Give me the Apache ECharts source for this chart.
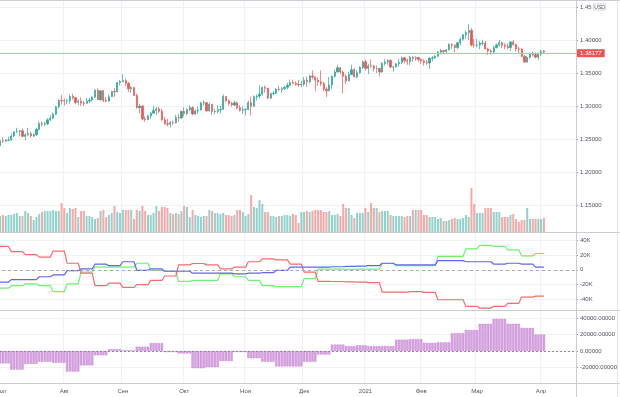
<!DOCTYPE html>
<html>
<head>
<meta charset="utf-8">
<title>GBP/USD</title>
<script src="https://cdn.jsdelivr.net/npm/echarts@6/dist/echarts.min.js"></script>
<style>
  html, body { margin: 0; padding: 0; background: #fff; }
  #chart { width: 620px; height: 397px; }
</style>
</head>
<body>
<div id="chart"></div>
<script>
// GBP/USD, дневки 30.06.2020 - 02.04.2021: [open, close, low, high]
const candles = [
  [1.2300, 1.2400, 1.2290, 1.2420],
  [1.2400, 1.2475, 1.2390, 1.2505], [1.2475, 1.2470, 1.2440, 1.2530], [1.2470, 1.2480, 1.2450, 1.2500],
  [1.2480, 1.2485, 1.2465, 1.2535], [1.2485, 1.2545, 1.2475, 1.2585], [1.2545, 1.2610, 1.2530, 1.2615],
  [1.2610, 1.2615, 1.2590, 1.2670], [1.2615, 1.2625, 1.2540, 1.2640], [1.2625, 1.2540, 1.2525, 1.2660],
  [1.2540, 1.2565, 1.2480, 1.2590], [1.2565, 1.2580, 1.2540, 1.2670], [1.2580, 1.2545, 1.2520, 1.2610],
  [1.2545, 1.2565, 1.2530, 1.2590], [1.2565, 1.2645, 1.2545, 1.2670], [1.2645, 1.2735, 1.2630, 1.2770],
  [1.2735, 1.2725, 1.2690, 1.2765], [1.2725, 1.2730, 1.2690, 1.2760], [1.2730, 1.2790, 1.2710, 1.2815],
  [1.2790, 1.2815, 1.2770, 1.2860], [1.2815, 1.2875, 1.2800, 1.2900], [1.2875, 1.2990, 1.2860, 1.3000],
  [1.2990, 1.3085, 1.2960, 1.3100], [1.3085, 1.3080, 1.3020, 1.3170],
  // август
  [1.3080, 1.3075, 1.3005, 1.3115], [1.3075, 1.3080, 1.3025, 1.3110], [1.3080, 1.3145, 1.3035, 1.3175],
  [1.3145, 1.3125, 1.3100, 1.3185], [1.3125, 1.3055, 1.3030, 1.3140], [1.3055, 1.3070, 1.3015, 1.3100],
  [1.3070, 1.3045, 1.3000, 1.3130], [1.3045, 1.3040, 1.3000, 1.3075], [1.3040, 1.3075, 1.3035, 1.3125],
  [1.3075, 1.3090, 1.3045, 1.3125], [1.3090, 1.3135, 1.3070, 1.3145], [1.3135, 1.3240, 1.3125, 1.3250],
  [1.3240, 1.3095, 1.3090, 1.3265], [1.3095, 1.3230, 1.3080, 1.3240], [1.3230, 1.3085, 1.3060, 1.3245],
  [1.3085, 1.3075, 1.3055, 1.3140], [1.3075, 1.3140, 1.3060, 1.3175], [1.3140, 1.3220, 1.3135, 1.3230],
  [1.3220, 1.3215, 1.3140, 1.3270], [1.3215, 1.3355, 1.3205, 1.3365], [1.3355, 1.3370, 1.3315, 1.3395],
  // сентябрь
  [1.3370, 1.3385, 1.3360, 1.3480], [1.3385, 1.3345, 1.3305, 1.3415], [1.3345, 1.3260, 1.3210, 1.3365],
  [1.3260, 1.3280, 1.3195, 1.3300], [1.3280, 1.3160, 1.3155, 1.3285], [1.3160, 1.2975, 1.2960, 1.3185],
  [1.2975, 1.3000, 1.2890, 1.3035], [1.3000, 1.2805, 1.2780, 1.3010], [1.2805, 1.2795, 1.2760, 1.2845],
  [1.2795, 1.2850, 1.2785, 1.2875], [1.2850, 1.2890, 1.2805, 1.2905], [1.2890, 1.2930, 1.2885, 1.3005],
  [1.2930, 1.2955, 1.2865, 1.2985], [1.2955, 1.2920, 1.2895, 1.2985], [1.2920, 1.2790, 1.2775, 1.2960],
  [1.2790, 1.2730, 1.2720, 1.2835], [1.2730, 1.2725, 1.2690, 1.2805], [1.2725, 1.2750, 1.2675, 1.2770],
  [1.2750, 1.2745, 1.2705, 1.2780], [1.2745, 1.2825, 1.2735, 1.2865], [1.2825, 1.2820, 1.2760, 1.2880],
  [1.2820, 1.2920, 1.2805, 1.2925],
  // октябрь
  [1.2920, 1.2885, 1.2845, 1.2980], [1.2885, 1.2945, 1.2860, 1.2965], [1.2945, 1.2975, 1.2920, 1.3010],
  [1.2975, 1.2880, 1.2860, 1.3000], [1.2880, 1.2925, 1.2865, 1.2945], [1.2925, 1.2940, 1.2880, 1.2990],
  [1.2940, 1.3045, 1.2930, 1.3065], [1.3045, 1.3050, 1.3010, 1.3085], [1.3050, 1.2925, 1.2915, 1.3060],
  [1.2925, 1.3025, 1.2915, 1.3050], [1.3025, 1.2915, 1.2865, 1.3030], [1.2915, 1.2920, 1.2875, 1.2960],
  [1.2920, 1.2945, 1.2890, 1.3010], [1.2945, 1.2950, 1.2885, 1.3000], [1.2950, 1.3145, 1.2945, 1.3175],
  [1.3145, 1.3080, 1.3055, 1.3150], [1.3080, 1.3040, 1.3005, 1.3100], [1.3040, 1.3015, 1.2990, 1.3065],
  [1.3015, 1.3050, 1.3000, 1.3080], [1.3050, 1.2975, 1.2950, 1.3065], [1.2975, 1.2935, 1.2915, 1.3015],
  [1.2935, 1.2945, 1.2880, 1.2995],
  // ноябрь
  [1.2945, 1.2950, 1.2855, 1.2965], [1.2950, 1.3050, 1.2935, 1.3080], [1.3050, 1.2995, 1.2855, 1.3140],
  [1.2995, 1.3140, 1.2985, 1.3160], [1.3140, 1.3150, 1.3085, 1.3175], [1.3150, 1.3180, 1.3115, 1.3310],
  [1.3180, 1.3280, 1.3160, 1.3290], [1.3280, 1.3270, 1.3200, 1.3310], [1.3270, 1.3120, 1.3105, 1.3275],
  [1.3120, 1.3190, 1.3105, 1.3200], [1.3190, 1.3195, 1.3160, 1.3225], [1.3195, 1.3255, 1.3175, 1.3275],
  [1.3255, 1.3250, 1.3230, 1.3310], [1.3250, 1.3260, 1.3200, 1.3285], [1.3260, 1.3285, 1.3245, 1.3300],
  [1.3285, 1.3315, 1.3250, 1.3355], [1.3315, 1.3355, 1.3300, 1.3400], [1.3355, 1.3345, 1.3330, 1.3400],
  [1.3345, 1.3325, 1.3305, 1.3375], [1.3325, 1.3320, 1.3290, 1.3395], [1.3320, 1.3330, 1.3285, 1.3385],
  // декабрь
  [1.3330, 1.3390, 1.3300, 1.3440], [1.3390, 1.3365, 1.3290, 1.3445], [1.3365, 1.3455, 1.3340, 1.3470],
  [1.3455, 1.3440, 1.3405, 1.3540], [1.3440, 1.3390, 1.3225, 1.3445], [1.3390, 1.3365, 1.3305, 1.3430],
  [1.3365, 1.3340, 1.3305, 1.3540], [1.3340, 1.3255, 1.3225, 1.3365], [1.3255, 1.3230, 1.3135, 1.3285],
  [1.3230, 1.3320, 1.3225, 1.3440], [1.3320, 1.3450, 1.3255, 1.3465], [1.3450, 1.3515, 1.3425, 1.3550],
  [1.3515, 1.3580, 1.3505, 1.3625], [1.3580, 1.3515, 1.3485, 1.3590], [1.3515, 1.3450, 1.3190, 1.3535],
  [1.3450, 1.3380, 1.3335, 1.3480], [1.3380, 1.3475, 1.3375, 1.3520], [1.3475, 1.3550, 1.3470, 1.3625],
  [1.3550, 1.3440, 1.3435, 1.3575], [1.3440, 1.3505, 1.3425, 1.3545], [1.3505, 1.3585, 1.3490, 1.3605],
  [1.3585, 1.3670, 1.3560, 1.3690],
  // январь
  [1.3670, 1.3570, 1.3535, 1.3705], [1.3570, 1.3610, 1.3485, 1.3640], [1.3610, 1.3605, 1.3580, 1.3705],
  [1.3605, 1.3565, 1.3525, 1.3625], [1.3565, 1.3570, 1.3500, 1.3615], [1.3570, 1.3515, 1.3450, 1.3580],
  [1.3515, 1.3645, 1.3505, 1.3665], [1.3645, 1.3665, 1.3610, 1.3710], [1.3665, 1.3690, 1.3625, 1.3710],
  [1.3690, 1.3590, 1.3575, 1.3710], [1.3590, 1.3595, 1.3520, 1.3610], [1.3595, 1.3640, 1.3585, 1.3650],
  [1.3640, 1.3660, 1.3595, 1.3710], [1.3660, 1.3730, 1.3635, 1.3745], [1.3730, 1.3685, 1.3645, 1.3745],
  [1.3685, 1.3675, 1.3625, 1.3720], [1.3675, 1.3740, 1.3620, 1.3760], [1.3740, 1.3720, 1.3670, 1.3760],
  [1.3720, 1.3735, 1.3685, 1.3755], [1.3735, 1.3705, 1.3670, 1.3745],
  // февраль
  [1.3705, 1.3680, 1.3640, 1.3720], [1.3680, 1.3660, 1.3610, 1.3710], [1.3660, 1.3650, 1.3620, 1.3695],
  [1.3650, 1.3725, 1.3565, 1.3740], [1.3725, 1.3730, 1.3675, 1.3755], [1.3730, 1.3755, 1.3715, 1.3770],
  [1.3755, 1.3815, 1.3745, 1.3830], [1.3815, 1.3840, 1.3780, 1.3865], [1.3840, 1.3825, 1.3795, 1.3850],
  [1.3825, 1.3850, 1.3795, 1.3865], [1.3850, 1.3930, 1.3845, 1.3950], [1.3930, 1.3920, 1.3865, 1.3955],
  [1.3920, 1.3885, 1.3815, 1.3935], [1.3885, 1.3960, 1.3860, 1.3965], [1.3960, 1.4010, 1.3920, 1.4035],
  [1.4010, 1.4080, 1.3990, 1.4085], [1.4080, 1.4115, 1.4015, 1.4145], [1.4115, 1.4145, 1.4000, 1.4240],
  [1.4145, 1.3925, 1.3900, 1.4180], [1.3925, 1.3920, 1.3885, 1.4015],
  // март
  [1.3920, 1.3925, 1.3890, 1.4015], [1.3925, 1.3950, 1.3860, 1.3985], [1.3950, 1.3955, 1.3915, 1.4005],
  [1.3955, 1.3865, 1.3855, 1.3985], [1.3865, 1.3835, 1.3775, 1.3880], [1.3835, 1.3820, 1.3780, 1.3865],
  [1.3820, 1.3885, 1.3800, 1.3915], [1.3885, 1.3925, 1.3870, 1.3945], [1.3925, 1.3960, 1.3900, 1.4000],
  [1.3960, 1.3920, 1.3875, 1.3975], [1.3920, 1.3905, 1.3860, 1.3950], [1.3905, 1.3885, 1.3855, 1.3945],
  [1.3885, 1.3970, 1.3835, 1.3975], [1.3970, 1.3930, 1.3915, 1.4000], [1.3930, 1.3865, 1.3830, 1.3945],
  [1.3865, 1.3860, 1.3800, 1.3900], [1.3860, 1.3755, 1.3740, 1.3880], [1.3755, 1.3665, 1.3655, 1.3770],
  [1.3665, 1.3735, 1.3660, 1.3760], [1.3735, 1.3795, 1.3720, 1.3810], [1.3795, 1.3775, 1.3750, 1.3825],
  [1.3775, 1.3740, 1.3720, 1.3810], [1.3740, 1.3785, 1.3700, 1.3810],
  // апрель
  [1.3785, 1.3825, 1.3760, 1.3850], [1.3835, 1.38177, 1.3800, 1.3850]
];

// тиковый объём, тыс.
const volumes = [
  17, 16, 17, 16, 17, 17, 18, 19, 16, 16,
  21, 19, 16, 12, 15, 18, 20, 21, 21, 21,
  22, 21, 21, 29, 24, 19, 24, 23, 24, 15,
  21, 21, 16, 16, 15, 13, 14, 21, 22, 15,
  17, 19, 26, 20, 19, 22, 22, 22, 22, 13,
  22, 21, 26, 21, 17, 17, 19, 26, 21, 25,
  25, 24, 19, 18, 19, 18, 21, 26, 25, 15,
  22, 17, 16, 15, 16, 16, 22, 21, 19, 19,
  18, 19, 17, 17, 16, 17, 22, 22, 20, 16,
  18, 37, 25, 24, 32, 28, 20, 20, 16, 16,
  15, 16, 16, 17, 17, 16, 18, 17, 9, 20,
  20, 21, 20, 21, 22, 22, 22, 20, 20, 21,
  17, 17, 18, 16, 28, 24, 24, 17, 14, 19,
  19, 19, 24, 20, 29, 24, 24, 20, 21, 21,
  21, 17, 16, 16, 16, 16, 15, 16, 16, 22,
  22, 22, 22, 17, 17, 15, 15, 15, 13, 14,
  11, 11, 12, 13, 14, 13, 13, 14, 17, 15,
  44, 28, 19, 19, 19, 24, 24, 24, 20, 20,
  20, 15, 15, 15, 17, 18, 13, 10, 12, 12,
  24, 13, 13, 13, 13, 13, 14
];

// недельные данные COT (по вторникам)
const cotDates = [
  '2020-06-30', '2020-07-07', '2020-07-14', '2020-07-21', '2020-07-28',
  '2020-08-04', '2020-08-11', '2020-08-18', '2020-08-25', '2020-09-01',
  '2020-09-08', '2020-09-15', '2020-09-22', '2020-09-29', '2020-10-06',
  '2020-10-13', '2020-10-20', '2020-10-27', '2020-11-03', '2020-11-10',
  '2020-11-17', '2020-11-24', '2020-12-01', '2020-12-08', '2020-12-15',
  '2020-12-22', '2020-12-29', '2021-01-05', '2021-01-12', '2021-01-19',
  '2021-01-26', '2021-02-02', '2021-02-09', '2021-02-16', '2021-02-23',
  '2021-03-02', '2021-03-09', '2021-03-16', '2021-03-23', '2021-03-30'
];
// тыс. контрактов
const cotRed = [32, 24.8, 20.8, 17.4, 25.7, 9, -4.6, -21.8, -18.3, -24,
  -20.3, -14.4, -8.5, 6.7, 8.6, 6.7, 1.2, 3.7, 11, 15,
  13.6, 7.7, -3.2, -15.8, -16, -16.5, -17, -17.5, -30.5, -30.5,
  -30, -31, -41, -41, -50, -52.5, -50, -46, -37.4, -36];
const cotGreen = [-25, -21.8, -19.3, -21.8, -30, -19.3, -3, 3.7, 3.7, 3.7,
  9, -0.7, -2, -15.8, -14.4, -14.4, -5.6, -9.5, -14.4, -21.8,
  -23, -23, -12, 0.8, 0.8, 0.6, 0.8, 1, 8.6, 5.6,
  5.6, 5.6, 18.5, 18.5, 28.6, 33.5, 32, 27.3, 19, 22.3];
const cotBlue = [-16.8, -13.4, -13.4, -9.5, -7, -1.2, 1.2, 7.7, 5.6, 11,
  -0.7, 1.2, -2, -2, -4.6, -4.6, -4.6, -5.6, -4.6, -4,
  -0.7, 3.7, 3.7, 3.7, 4.2, 4.6, 5, 5.6, 9, 6.7,
  6.7, 6.7, 12.5, 12.5, 11, 11, 7.7, 9, 7.7, 3.7];
const histValues = [-15000, -22600, -15700, -13000, -14300, -25000, -17400, -5200, 2200, 900,
  5200, 9600, -1300, -3000, -20900, -19600, -12200, -1300, -8700, -13000,
  -18700, -18700, -13000, -4300, 7800, 5900, 7000, 5900, 5900, 13700,
  14400, 9800, 10500, 21500, 25500, 33000, 39000, 33000, 28000, 20000];

const lastPrice = 1.38177;
const monthNames = ['Янв', 'Фев', 'Мар', 'Апр', 'Май', 'Июн', 'Июл', 'Авг', 'Сен', 'Окт', 'Ноя', 'Дек'];
const holidays = ['2020-12-25', '2021-01-01'];
const futureBars = 11;

// торговые дни + пустое место справа
const dates = [];
let d = new Date(Date.UTC(2020, 5, 30));
while (dates.length < candles.length + futureBars) {
  const wd = d.getUTCDay();
  const s = d.toISOString().slice(0, 10);
  if (wd !== 0 && wd !== 6 && holidays.indexOf(s) < 0) dates.push(s);
  d.setUTCDate(d.getUTCDate() + 1);
}

// недельное значение держится до следующего отчёта
function daily(weekly) {
  return dates.slice(0, candles.length).map(function (day) {
    let v = null;
    for (let i = 0; i < cotDates.length; i++) {
      if (cotDates[i] <= day) v = weekly[i];
    }
    return v;
  });
}

function isMonthStart(index) {
  return index > 0 && dates[index].slice(5, 7) !== dates[index - 1].slice(5, 7);
}

const gridLine = '#eff1f4';
const textColor = '#50535e';
const upColor = '#26a69a';
const downColor = '#ef5350';
const priceLineColor = '#f6a9a8';

function xAxisFor(gridIndex, withLabels) {
  return {
    type: 'category',
    gridIndex: gridIndex,
    data: dates,
    axisLine: { show: false },
    axisTick: { show: false },
    axisLabel: {
      show: withLabels,
      interval: isMonthStart,
      formatter: function (value) {
        const m = +value.slice(5, 7);
        return m === 1 ? value.slice(0, 4) : monthNames[m - 1];
      },
      color: textColor,
      fontSize: 6,
      margin: 4
    },
    splitLine: { show: true, interval: isMonthStart, lineStyle: { color: gridLine, width: 1 } }
  };
}

function rightAxis(gridIndex, min, max, interval, formatter) {
  return {
    type: 'value',
    gridIndex: gridIndex,
    position: 'right',
    min: min,
    max: max,
    interval: interval,
    axisLine: { show: false },
    axisTick: { show: true, length: 2, lineStyle: { color: '#9598a1' } },
    axisLabel: {
      showMinLabel: false,
      showMaxLabel: false,
      color: textColor,
      fontSize: 6,
      margin: 4,
      formatter: formatter
    },
    splitLine: { show: true, showMinLine: false, showMaxLine: false, lineStyle: { color: gridLine } }
  };
}

const priceAxis = rightAxis(0, 1.10, 1.46, 0.05, function (v) {
  if (Math.abs(v - 1.45) < 1e-6) return '{p|1.45} {u|USD}';
  return v.toFixed(5);
});
priceAxis.axisLabel.rich = {
  p: { fontSize: 6, color: textColor },
  u: { fontSize: 5, color: textColor, borderColor: '#b2b5be', borderWidth: 0.6, borderRadius: 1, padding: [1, 1, 0, 1] }
};

function panel(top, height) {
  return { left: -4, right: 44, top: top, height: height, containLabel: false, outerBoundsMode: 'none' };
}

const chart = echarts.init(document.getElementById('chart'), null, { renderer: 'canvas' });
chart.setOption({
  animation: false,
  backgroundColor: '#ffffff',
  textStyle: { fontFamily: 'Liberation Sans, Arial, sans-serif' },
  grid: [panel(0.4, 237.6), panel(132, 100), panel(233.3, 80.3), panel(311, 73)],
  xAxis: [xAxisFor(0, false), xAxisFor(1, false), xAxisFor(2, false), xAxisFor(3, true)],
  yAxis: [
    priceAxis,
    { type: 'value', gridIndex: 1, min: 0, max: 100, show: false },
    rightAxis(2, -60, 50, 20, function (v) { return v === 0 ? '0' : v + 'K'; }),
    rightAxis(3, -40000, 48500, 20000, function (v) { return v.toFixed(5); })
  ],
  graphic: [
    { type: 'line', shape: { x1: 0, y1: 0.5, x2: 620, y2: 0.5 }, style: { stroke: '#c9ccd2', lineWidth: 1 }, z: 100 },
    { type: 'line', shape: { x1: 0, y1: 232.5, x2: 620, y2: 232.5 }, style: { stroke: '#c9ccd2', lineWidth: 1 }, z: 100 },
    { type: 'line', shape: { x1: 0, y1: 310.5, x2: 620, y2: 310.5 }, style: { stroke: '#c9ccd2', lineWidth: 1 }, z: 100 },
    { type: 'line', shape: { x1: 0, y1: 383.5, x2: 620, y2: 383.5 }, style: { stroke: '#c9ccd2', lineWidth: 1 }, z: 100 },
    { type: 'line', shape: { x1: 576.5, y1: 0, x2: 576.5, y2: 397 }, style: { stroke: '#c9ccd2', lineWidth: 1 }, z: 100 },
    { type: 'line', shape: { x1: 617.5, y1: 0, x2: 617.5, y2: 397 }, style: { stroke: '#e0e3e8', lineWidth: 1 }, z: 100 }
  ],
  series: [
    {
      type: 'candlestick',
      xAxisIndex: 0,
      yAxisIndex: 0,
      data: candles,
      barWidth: '62%',
      itemStyle: {
        color: upColor,
        color0: downColor,
        borderColor: upColor,
        borderColor0: downColor,
        borderWidth: 0.7
      }
    },
    {
      // линия последней цены
      type: 'line',
      xAxisIndex: 0,
      yAxisIndex: 0,
      color: priceLineColor,
      data: [],
      markLine: {
        silent: true,
        symbol: 'none',
        data: [{
          yAxis: lastPrice,
          lineStyle: { color: priceLineColor, type: 'solid', width: 1 }
        }],
        lineStyle: { color: priceLineColor, type: 'solid', width: 1 },
        label: {
          show: true,
          position: 'end',
          distance: 1,
          formatter: lastPrice.toFixed(5),
          backgroundColor: downColor,
          color: '#ffffff',
          fontSize: 6,
          padding: [1, 3, 1, 3]
        }
      }
    },
    {
      type: 'bar',
      xAxisIndex: 1,
      yAxisIndex: 1,
      barWidth: '72%',
      data: volumes.map(function (v, i) {
        const up = candles[i][1] >= candles[i][0];
        return { value: v, itemStyle: { color: up ? 'rgba(38,166,154,0.5)' : 'rgba(239,83,80,0.5)' } };
      })
    },
    {
      type: 'line',
      xAxisIndex: 2,
      yAxisIndex: 2,
      data: daily(cotGreen),
      showSymbol: false,
      lineStyle: { color: '#6fef6f', width: 1.2 },
      markLine: {
        silent: true,
        symbol: 'none',
        data: [{ yAxis: 0 }],
        label: { show: false },
        lineStyle: { color: '#a7aab0', type: [3, 3], width: 1 }
      }
    },
    {
      type: 'line',
      xAxisIndex: 2,
      yAxisIndex: 2,
      data: daily(cotRed),
      showSymbol: false,
      lineStyle: { color: '#f56b6b', width: 1.2 }
    },
    {
      type: 'line',
      xAxisIndex: 2,
      yAxisIndex: 2,
      data: daily(cotBlue),
      showSymbol: false,
      lineStyle: { color: '#6464f2', width: 1.2 }
    },
    {
      type: 'bar',
      xAxisIndex: 3,
      yAxisIndex: 3,
      data: daily(histValues),
      barWidth: '82%',
      itemStyle: { color: '#d8a3e1', borderColor: '#c07fcd', borderWidth: 0.4 },
      markLine: {
        silent: true,
        symbol: 'none',
        data: [{ yAxis: 0 }],
        label: { show: false },
        lineStyle: { color: '#8a8d94', type: [2, 2], width: 1 }
      }
    }
  ]
});
</script>
</body>
</html>
